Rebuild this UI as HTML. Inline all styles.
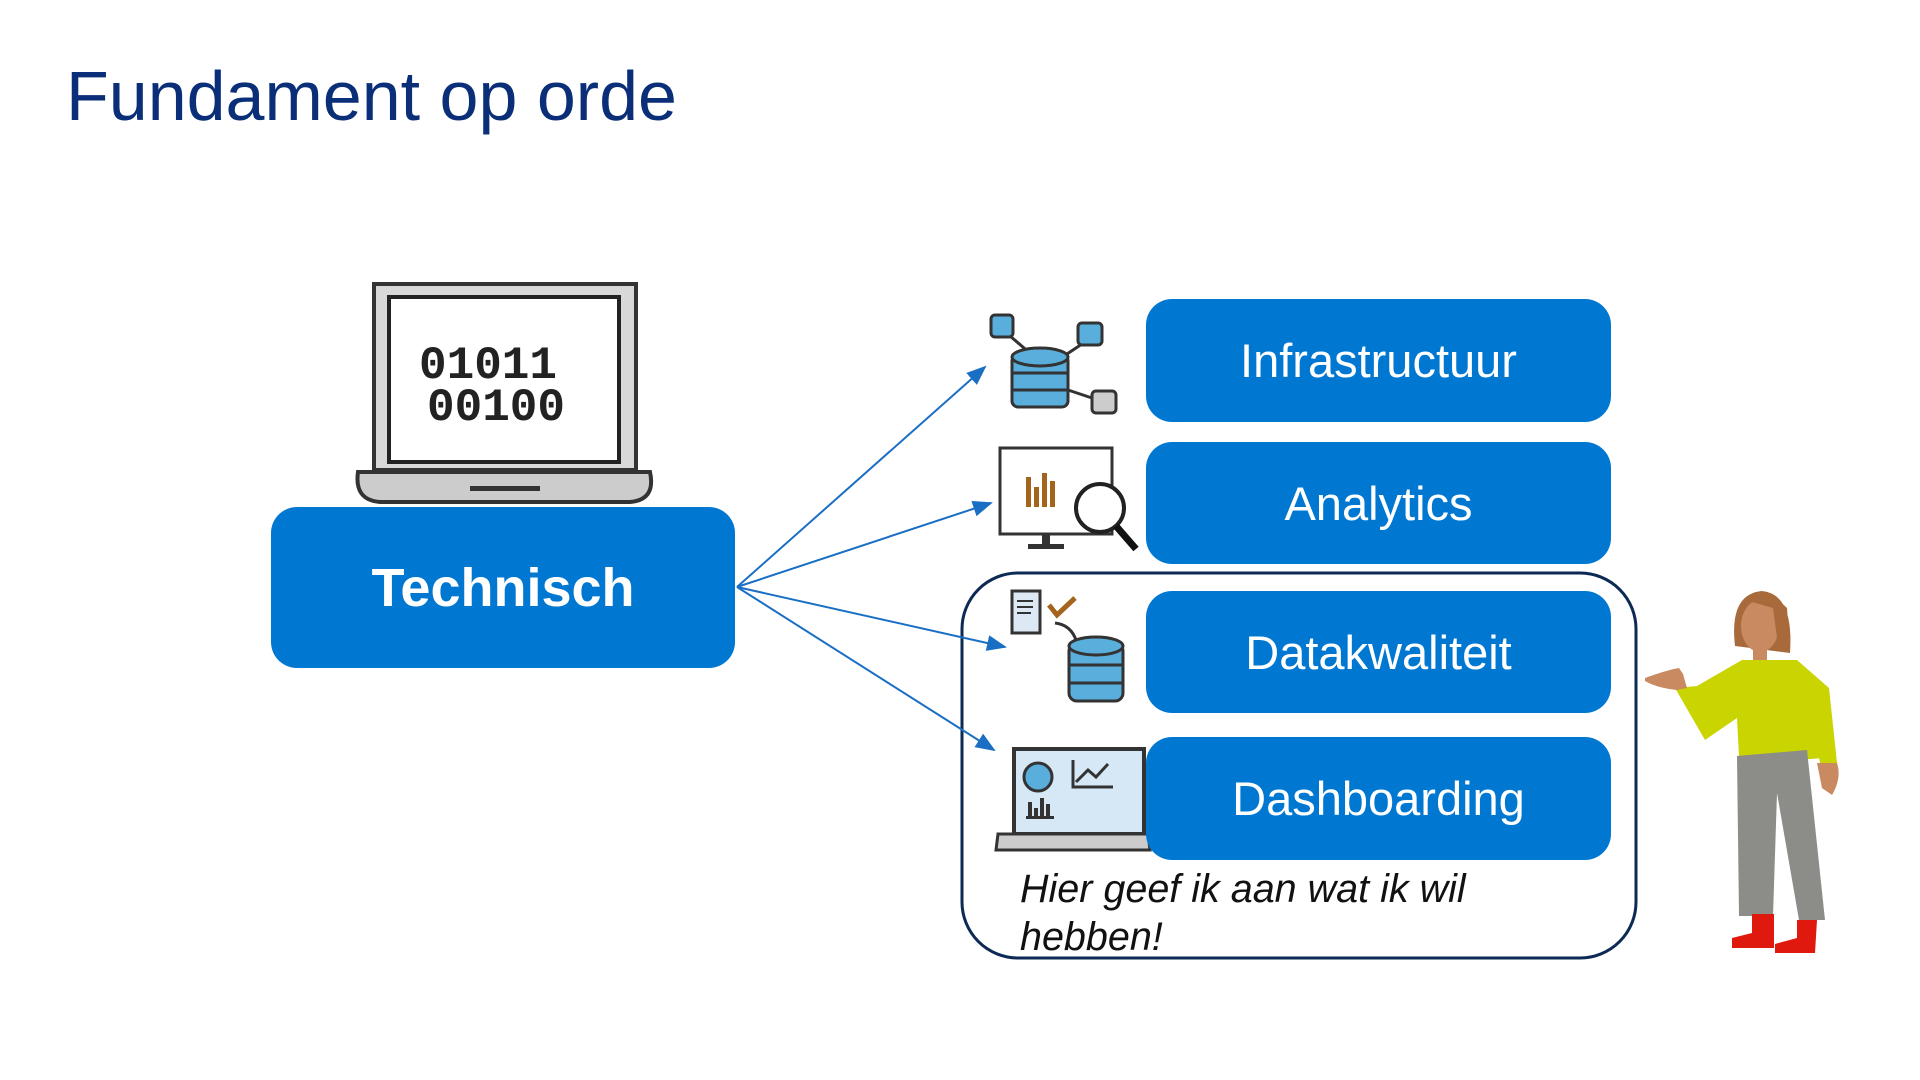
<!DOCTYPE html>
<html><head><meta charset="utf-8"><style>
html,body{margin:0;padding:0;background:#fff;}
body{width:1920px;height:1080px;position:relative;overflow:hidden;font-family:"Liberation Sans",sans-serif;}
.t{position:absolute;left:66px;top:56px;font-size:70px;color:#0a2f78;white-space:nowrap;}
.b{position:absolute;background:#0078d2;border-radius:26px;color:#fff;display:flex;align-items:center;justify-content:center;font-size:47px;}
.it{position:absolute;left:1020px;font-style:italic;font-size:39.5px;color:#111;white-space:nowrap;}
</style></head><body>
<div class="t">Fundament op orde</div>
<svg width="1920" height="1080" style="position:absolute;left:0;top:0">
<defs><marker id="a" markerWidth="10" markerHeight="8" refX="9" refY="4" orient="auto"><path d="M0,0 L10,4 L0,8 z" fill="#1a6fc4"/></marker></defs>
<rect x="374" y="284" width="262" height="186" fill="#d8d8d8" stroke="#333" stroke-width="4"/>
<rect x="389" y="297" width="230" height="165" fill="#fff" stroke="#222" stroke-width="4"/>
<text x="488" y="378" font-family="Liberation Mono,monospace" font-size="46" font-weight="bold" text-anchor="middle" fill="#222">01011</text>
<text x="496" y="420" font-family="Liberation Mono,monospace" font-size="46" font-weight="bold" text-anchor="middle" fill="#222">00100</text>
<path d="M358,472 L650,472 Q656,500 630,502 L380,502 Q354,500 358,472 z" fill="#ccc" stroke="#333" stroke-width="4"/>
<rect x="470" y="486" width="70" height="5" fill="#333"/>
<rect x="962" y="573" width="674" height="385" rx="56" fill="none" stroke="#0d2a55" stroke-width="3"/>
<g stroke="#1a6fc4" stroke-width="2" fill="none" marker-end="url(#a)">
<line x1="737" y1="587" x2="985" y2="367"/>
<line x1="737" y1="587" x2="991" y2="503"/>
<line x1="737" y1="587" x2="1005" y2="647"/>
<line x1="737" y1="587" x2="994" y2="750"/>
</g>
<g transform="translate(-12,-5)">
<g stroke="#333" stroke-width="3" fill="#5aaedc">
<line x1="1015" y1="335" x2="1050" y2="365"/><line x1="1100" y1="345" x2="1070" y2="365"/><line x1="1080" y1="395" x2="1110" y2="405"/>
<rect x="1024" y="360" width="56" height="52" rx="6"/>
<ellipse cx="1052" cy="362" rx="28" ry="9"/>
<line x1="1024" y1="378" x2="1080" y2="378"/><line x1="1024" y1="395" x2="1080" y2="395"/>
<rect x="1003" y="320" width="22" height="22" rx="4"/>
<rect x="1090" y="328" width="24" height="22" rx="4"/>
<rect x="1104" y="396" width="24" height="22" rx="4" fill="#ccc"/>
</g></g>
<g transform="translate(-10,-7)">
<rect x="1010" y="455" width="112" height="86" fill="#fff" stroke="#333" stroke-width="3"/>
<rect x="1052" y="541" width="8" height="12" fill="#333"/><rect x="1038" y="551" width="36" height="5" fill="#333"/>
<g fill="#a4641e"><rect x="1036" y="484" width="5" height="30"/><rect x="1044" y="494" width="5" height="20"/><rect x="1052" y="480" width="5" height="34"/><rect x="1060" y="488" width="5" height="26"/></g>
<circle cx="1110" cy="515" r="24" fill="#fff" stroke="#222" stroke-width="4"/>
<line x1="1126" y1="533" x2="1146" y2="556" stroke="#111" stroke-width="7"/>
</g>
<g transform="translate(-3,-7)">
<rect x="1015" y="598" width="28" height="42" fill="#dde8f5" stroke="#333" stroke-width="3"/>
<g stroke="#333" stroke-width="2"><line x1="1020" y1="608" x2="1036" y2="608"/><line x1="1020" y1="614" x2="1036" y2="614"/><line x1="1020" y1="620" x2="1034" y2="620"/></g>
<path d="M1052,612 L1060,622 L1078,605" stroke="#a4641e" stroke-width="5" fill="none"/>
<path d="M1058,630 Q1075,632 1080,650" stroke="#333" stroke-width="3" fill="none"/>
<g stroke="#333" stroke-width="3" fill="#5aaedc">
<rect x="1072" y="650" width="54" height="58" rx="8"/><ellipse cx="1099" cy="653" rx="27" ry="9"/>
<line x1="1072" y1="672" x2="1126" y2="672"/><line x1="1072" y1="690" x2="1126" y2="690"/></g>
</g>
<g transform="translate(-2,-8)">
<rect x="1016" y="757" width="130" height="85" fill="#d6e8f5" stroke="#333" stroke-width="4"/>
<path d="M1000,842 L1150,842 L1152,858 L998,858 z" fill="#ccc" stroke="#333" stroke-width="3"/>
<circle cx="1040" cy="785" r="14" fill="#5aaedc" stroke="#333" stroke-width="3"/>
<path d="M1075,768 L1075,795 L1115,795 M1078,790 L1090,778 L1098,785 L1110,772" stroke="#333" stroke-width="3" fill="none"/>
<g fill="#333"><rect x="1030" y="810" width="4" height="16"/><rect x="1036" y="816" width="4" height="10"/><rect x="1042" y="806" width="4" height="20"/><rect x="1048" y="812" width="4" height="14"/><rect x="1028" y="824" width="28" height="3"/></g>
</g>
<g transform="translate(-3,-2)">
<path d="M1738,648 Q1732,596 1765,593 Q1797,596 1793,655 Z" fill="#a86a3a"/>
<ellipse cx="1763" cy="628" rx="19" ry="26" fill="#c98a62"/>
<path d="M1748,602 Q1770,590 1790,610 L1792,640 L1780,640 L1776,610 Z" fill="#a86a3a"/>
<rect x="1756" y="650" width="14" height="16" fill="#c98a62"/>
<path d="M1700,688 L1745,662 L1800,662 L1832,690 L1840,765 L1823,765 L1815,720 L1825,760 Q1780,765 1742,758 L1740,720 L1708,742 L1678,690 Z" fill="#c9d400"/>
<path d="M1648,680 Q1670,672 1682,670 L1686,676 L1690,690 L1680,692 Q1660,690 1648,683 Z" fill="#c98a62"/>
<path d="M1820,765 L1840,765 Q1845,780 1835,797 L1825,790 Z" fill="#c98a62"/>
<path d="M1740,758 L1810,752 L1828,922 L1802,922 L1780,795 L1776,918 L1742,918 Z" fill="#8c8c88"/>
<path d="M1755,916 L1777,916 L1777,950 L1735,950 L1735,940 L1755,935 Z" fill="#e0190f"/>
<path d="M1800,922 L1820,922 L1818,955 L1778,955 L1778,946 L1800,940 Z" fill="#e0190f"/>
</g>
</svg>
<div class="b" style="left:271px;top:507px;width:464px;height:161px;font-weight:bold;font-size:54px;">Technisch</div>
<div class="b" style="left:1146px;top:299px;width:465px;height:123px;">Infrastructuur</div>
<div class="b" style="left:1146px;top:442px;width:465px;height:122px;">Analytics</div>
<div class="b" style="left:1146px;top:591px;width:465px;height:122px;">Datakwaliteit</div>
<div class="b" style="left:1146px;top:737px;width:465px;height:123px;">Dashboarding</div>
<div class="it" style="top:867px">Hier geef ik aan wat ik wil</div>
<div class="it" style="top:915px">hebben!</div>
</body></html>
